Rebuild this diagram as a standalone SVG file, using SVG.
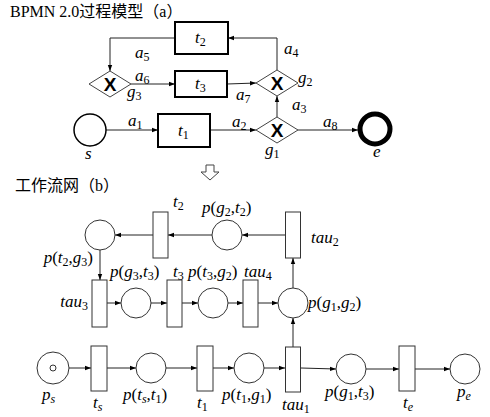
<svg xmlns="http://www.w3.org/2000/svg" width="490" height="417" viewBox="0 0 490 417">
<style>
.bg{fill:#fff}
.task{fill:#fff;stroke:#000;stroke-width:2}
.gw{fill:#fff;stroke:#444;stroke-width:1}
.x{font-family:"Liberation Sans",Arial,sans-serif;font-weight:bold;font-size:19px;fill:#000;text-anchor:middle}
.ln{fill:none;stroke:#222;stroke-width:1}
.pn{fill:#fff;stroke:#333;stroke-width:1}
.lb{font-family:"Liberation Serif","Times New Roman",serif;font-size:17px;font-style:italic;fill:#000}
.n{font-style:normal}
.s{font-size:12px;font-style:normal}
.si{font-size:12px;font-style:italic}
.ttl{font-family:"Liberation Serif","Noto Sans CJK SC",serif;font-size:16px;fill:#000}
</style>
<defs>
<marker id="ar" viewBox="0 0 6 6" refX="6" refY="3" markerWidth="6" markerHeight="6" orient="auto" markerUnits="userSpaceOnUse">
<path d="M0,0.8 L6,3 L0,5.2 z" fill="#000"/>
</marker>
</defs>
<rect class="bg" x="0" y="0" width="490" height="417"/>
<text class="ttl" x="10" y="17">BPMN 2.0过程模型（a）</text>
<text class="ttl" x="15" y="191">工作流网（b）</text>
<polygon points="206,165 214,165 214,172 219,172 210,180 201,172 206,172" fill="#fff" stroke="#444" stroke-width="1"/>

<g id="connectors">
<line class="ln" x1="106" y1="130" x2="158" y2="130" marker-end="url(#ar)"/>
<line class="ln" x1="210" y1="130" x2="256" y2="130" marker-end="url(#ar)"/>
<line class="ln" x1="277" y1="117" x2="277" y2="96" marker-end="url(#ar)"/>
<polyline class="ln" points="277,70 277,38 228,38" marker-end="url(#ar)"/>
<polyline class="ln" points="175,38 110,38 110,71" marker-end="url(#ar)"/>
<line class="ln" x1="131" y1="84" x2="175" y2="84" marker-end="url(#ar)"/>
<line class="ln" x1="227" y1="84" x2="256" y2="83" marker-end="url(#ar)"/>
<line class="ln" x1="298" y1="130" x2="358" y2="130" marker-end="url(#ar)"/>

<line class="ln" x1="286" y1="235" x2="242" y2="235" marker-end="url(#ar)"/>
<line class="ln" x1="212" y1="235" x2="168" y2="235" marker-end="url(#ar)"/>
<line class="ln" x1="153" y1="235" x2="115" y2="235" marker-end="url(#ar)"/>
<line class="ln" x1="100" y1="250" x2="100" y2="280" marker-end="url(#ar)"/>
<line class="ln" x1="107" y1="303" x2="121" y2="303" marker-end="url(#ar)"/>
<line class="ln" x1="151" y1="303" x2="167" y2="303" marker-end="url(#ar)"/>
<line class="ln" x1="182" y1="303" x2="198" y2="303" marker-end="url(#ar)"/>
<line class="ln" x1="228" y1="303" x2="243" y2="303" marker-end="url(#ar)"/>
<line class="ln" x1="258" y1="303" x2="278" y2="303" marker-end="url(#ar)"/>
<line class="ln" x1="293" y1="288" x2="293" y2="258" marker-end="url(#ar)"/>
<line class="ln" x1="293" y1="347" x2="293" y2="318" marker-end="url(#ar)"/>
<line class="ln" x1="69" y1="368" x2="91" y2="368" marker-end="url(#ar)"/>
<line class="ln" x1="107" y1="368" x2="136" y2="368" marker-end="url(#ar)"/>
<line class="ln" x1="166" y1="368" x2="197" y2="368" marker-end="url(#ar)"/>
<line class="ln" x1="213" y1="368" x2="234" y2="368" marker-end="url(#ar)"/>
<line class="ln" x1="264" y1="368" x2="285" y2="368" marker-end="url(#ar)"/>
<line class="ln" x1="301" y1="368" x2="336" y2="369" marker-end="url(#ar)"/>
<line class="ln" x1="366" y1="369" x2="399" y2="369" marker-end="url(#ar)"/>
<line class="ln" x1="415" y1="369" x2="450" y2="369" marker-end="url(#ar)"/>

<text class="lb" x="128" y="126">a<tspan class="s" dy="3">1</tspan></text>
<text class="lb" x="232" y="127">a<tspan class="s" dy="3">2</tspan></text>
<text class="lb" x="292" y="110">a<tspan class="s" dy="3">3</tspan></text>
<text class="lb" x="284" y="54">a<tspan class="s" dy="3">4</tspan></text>
<text class="lb" x="135" y="58">a<tspan class="s" dy="3">5</tspan></text>
<text class="lb" x="135" y="81">a<tspan class="s" dy="3">6</tspan></text>
<text class="lb" x="236" y="100">a<tspan class="s" dy="3">7</tspan></text>
<text class="lb" x="323" y="127">a<tspan class="s" dy="3">8</tspan></text>
</g>

<g id="s"><circle cx="90" cy="130" r="16" fill="#fff" stroke="#000" stroke-width="1.5"/><text class="lb" x="85" y="159">s</text></g>
<g id="t1"><rect class="task" x="158" y="114" width="52" height="33"/><text class="lb" x="178" y="136">t<tspan class="s" dy="3">1</tspan></text></g>
<g id="t2"><rect class="task" x="175" y="22" width="53" height="32"/><text class="lb" x="195" y="43">t<tspan class="s" dy="3">2</tspan></text></g>
<g id="t3"><rect class="task" x="175" y="71" width="52" height="26"/><text class="lb" x="195" y="89">t<tspan class="s" dy="3">3</tspan></text></g>
<g id="g1"><polygon class="gw" points="256,130 277,117 298,130 277,143"/><text class="x" x="277" y="136.5">X</text><text class="lb" x="265" y="155">g<tspan class="s" dy="3">1</tspan></text></g>
<g id="g2"><polygon class="gw" points="256,83 277,70 298,83 277,96"/><text class="x" x="277" y="89.5">X</text><text class="lb" x="298" y="83">g<tspan class="s" dy="3">2</tspan></text></g>
<g id="g3"><polygon class="gw" points="89,84 110,71 131,84 110,97"/><text class="x" x="110" y="90.5">X</text><text class="lb" x="127" y="97">g<tspan class="s" dy="3">3</tspan></text></g>
<g id="e"><circle cx="375" cy="129" r="15" fill="#fff" stroke="#000" stroke-width="5"/><text class="lb" x="373" y="157">e</text></g>

<g id="p_t2_g3"><circle class="pn" cx="100" cy="235" r="15"/><text class="lb" x="93" y="263" text-anchor="end">p<tspan class="n">(</tspan>t<tspan class="s" dy="3">2</tspan><tspan class="n" dy="-3">,</tspan>g<tspan class="s" dy="3">3</tspan><tspan class="n" dy="-3">)</tspan></text></g>
<g id="T_t2"><rect class="pn" x="153" y="212" width="15" height="46"/><text class="lb" x="173" y="207">t<tspan class="s" dy="3">2</tspan></text></g>
<g id="p_g2_t2"><circle class="pn" cx="227" cy="235" r="15"/><text class="lb" x="202" y="213">p<tspan class="n">(</tspan>g<tspan class="s" dy="3">2</tspan><tspan class="n" dy="-3">,</tspan>t<tspan class="s" dy="3">2</tspan><tspan class="n" dy="-3">)</tspan></text></g>
<g id="tau2"><rect class="pn" x="285.5" y="212" width="15" height="46"/><text class="lb" x="311" y="243">tau<tspan class="s" dy="3">2</tspan></text></g>

<g id="tau3"><rect class="pn" x="92" y="280" width="15" height="47"/><text class="lb" x="88" y="307" text-anchor="end">tau<tspan class="s" dy="3">3</tspan></text></g>
<g id="p_g3_t3"><circle class="pn" cx="136" cy="303" r="15"/><text class="lb" x="110" y="277">p<tspan class="n">(</tspan>g<tspan class="s" dy="3">3</tspan><tspan class="n" dy="-3">,</tspan>t<tspan class="s" dy="3">3</tspan><tspan class="n" dy="-3">)</tspan></text></g>
<g id="T_t3"><rect class="pn" x="167" y="280" width="15" height="47"/><text class="lb" x="173" y="277">t<tspan class="s" dy="3">3</tspan></text></g>
<g id="p_t3_g2"><circle class="pn" cx="213" cy="303" r="15"/><text class="lb" x="188" y="277">p<tspan class="n">(</tspan>t<tspan class="s" dy="3">3</tspan><tspan class="n" dy="-3">,</tspan>g<tspan class="s" dy="3">2</tspan><tspan class="n" dy="-3">)</tspan></text></g>
<g id="tau4"><rect class="pn" x="243" y="280" width="15" height="47"/><text class="lb" x="244" y="277">tau<tspan class="s" dy="3">4</tspan></text></g>
<g id="p_g1_g2"><circle class="pn" cx="293" cy="303" r="15"/><text class="lb" x="308" y="308">p<tspan class="n">(</tspan>g<tspan class="s" dy="3">1</tspan><tspan class="n" dy="-3">,</tspan>g<tspan class="s" dy="3">2</tspan><tspan class="n" dy="-3">)</tspan></text></g>

<g id="p_s"><circle class="pn" cx="53" cy="368" r="16"/><circle class="pn" cx="53" cy="368" r="3"/><text class="lb" x="42" y="400">p<tspan class="si" dy="3">s</tspan></text></g>
<g id="t_s"><rect class="pn" x="91" y="346" width="16" height="45"/><text class="lb" x="93" y="408">t<tspan class="si" dy="3">s</tspan></text></g>
<g id="p_ts_t1"><circle class="pn" cx="151" cy="368" r="15"/><text class="lb" x="123" y="400">p<tspan class="n">(</tspan>t<tspan class="si" dy="3">s</tspan><tspan class="n" dy="-3">,</tspan>t<tspan class="s" dy="3">1</tspan><tspan class="n" dy="-3">)</tspan></text></g>
<g id="T_t1"><rect class="pn" x="197" y="346" width="16" height="45"/><text class="lb" x="197" y="408">t<tspan class="s" dy="3">1</tspan></text></g>
<g id="p_t1_g1"><circle class="pn" cx="249" cy="368" r="15"/><text class="lb" x="222" y="400">p<tspan class="n">(</tspan>t<tspan class="s" dy="3">1</tspan><tspan class="n" dy="-3">,</tspan>g<tspan class="s" dy="3">1</tspan><tspan class="n" dy="-3">)</tspan></text></g>
<g id="tau1"><rect class="pn" x="285.5" y="347" width="15" height="45"/><text class="lb" x="282" y="410">tau<tspan class="s" dy="3">1</tspan></text></g>
<g id="p_g1_t3"><circle class="pn" cx="351" cy="369" r="15"/><text class="lb" x="325" y="397">p<tspan class="n">(</tspan>g<tspan class="s" dy="3">1</tspan><tspan class="n" dy="-3">,</tspan>t<tspan class="s" dy="3">3</tspan><tspan class="n" dy="-3">)</tspan></text></g>
<g id="t_e"><rect class="pn" x="399" y="346" width="16" height="45"/><text class="lb" x="403" y="408">t<tspan class="si" dy="3">e</tspan></text></g>
<g id="p_e"><circle class="pn" cx="465" cy="369" r="15"/><text class="lb" x="457" y="397">p<tspan class="si" dy="3">e</tspan></text></g>
</svg>
